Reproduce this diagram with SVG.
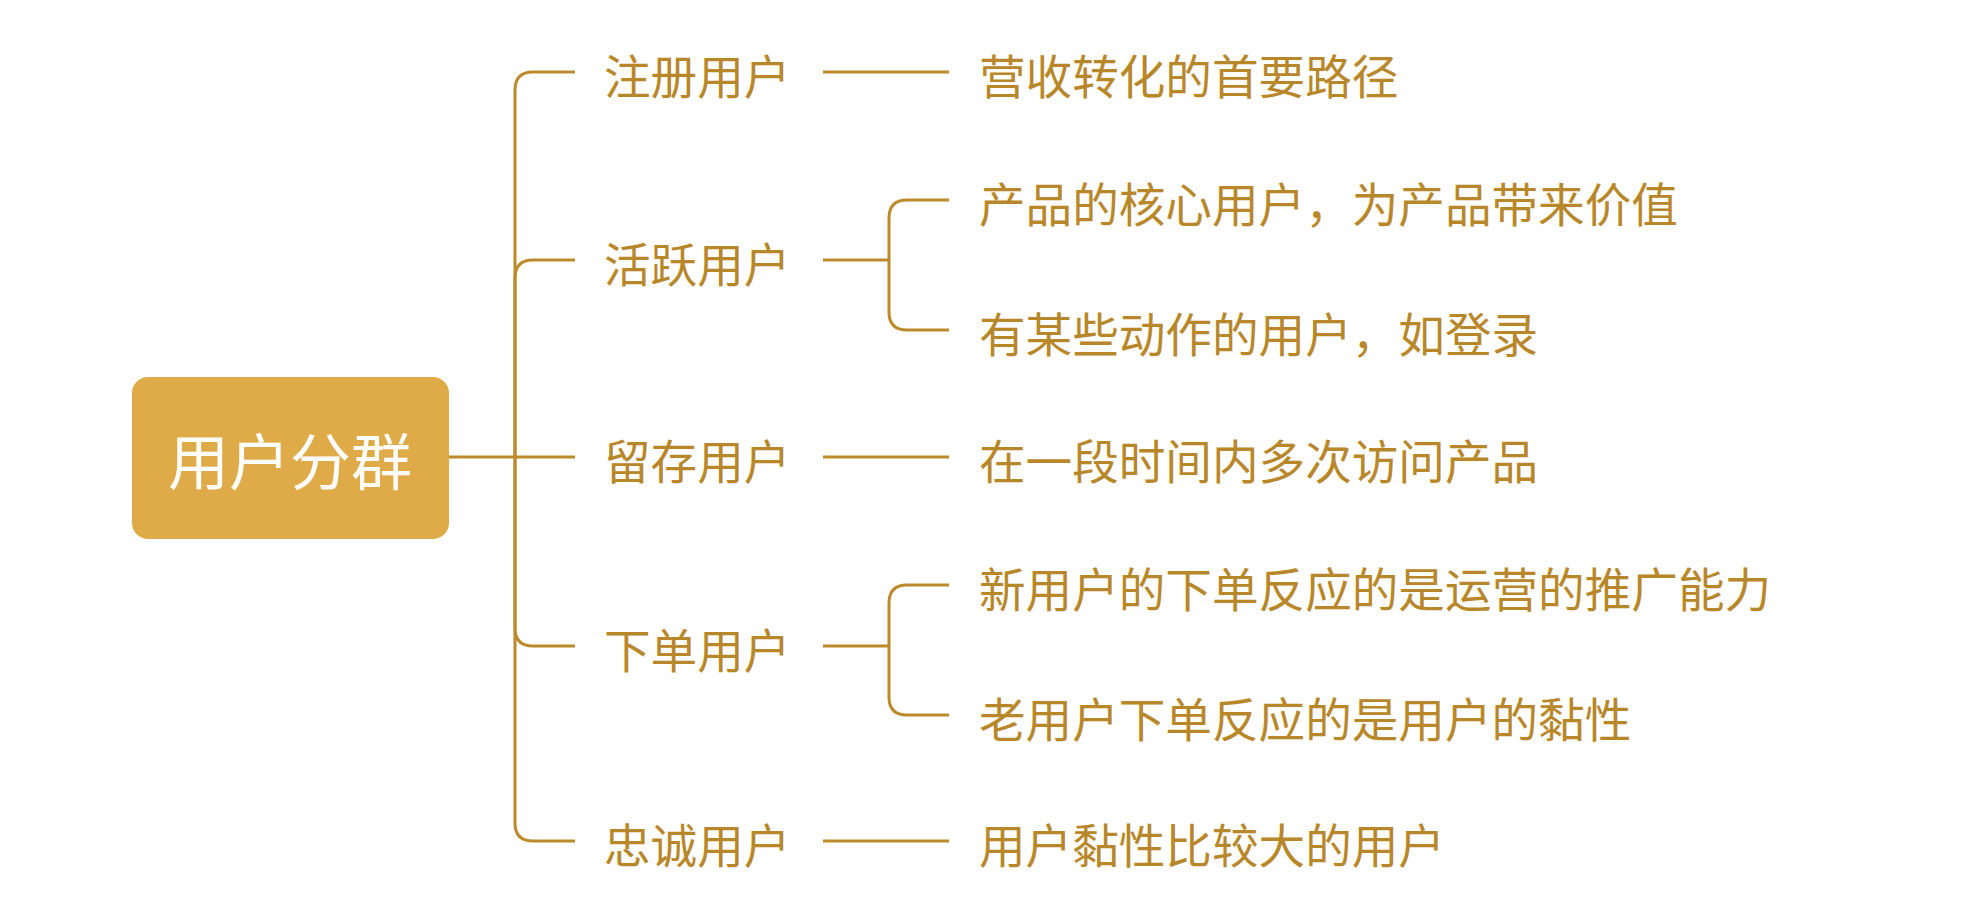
<svg xmlns="http://www.w3.org/2000/svg" width="1988" height="918" viewBox="0 0 1988 918">
<style>
.ln{fill:none;stroke:#BC8A2B;stroke-width:3;stroke-linecap:butt;stroke-linejoin:round}
.t{font-family:"Noto Sans CJK SC","Noto Sans",sans-serif;font-size:46.6px;fill:#B8872A}
.root{font-family:"Noto Sans CJK SC","Noto Sans",sans-serif;font-size:61px;fill:#FFFFFF}
</style>
<rect width="1988" height="918" fill="#FFFFFF"/>
<g id="connectors">
<path class="ln" d="M449,457 L575,457"/>
<path class="ln" d="M515,457 L515,90 Q515,72 533,72 L575,72"/>
<path class="ln" d="M515,457 L515,278 Q515,260 533,260 L575,260"/>
<path class="ln" d="M515,457 L515,628 Q515,646 533,646 L575,646"/>
<path class="ln" d="M515,457 L515,823 Q515,841 533,841 L575,841"/>
<path class="ln" d="M823,72 L949,72"/>
<path class="ln" d="M823,260 L889,260"/>
<path class="ln" d="M889,260 L889,218 Q889,200 907,200 L949,200"/>
<path class="ln" d="M889,260 L889,312 Q889,330 907,330 L949,330"/>
<path class="ln" d="M823,457 L949,457"/>
<path class="ln" d="M823,646 L889,646"/>
<path class="ln" d="M889,646 L889,603 Q889,585 907,585 L949,585"/>
<path class="ln" d="M889,646 L889,697 Q889,715 907,715 L949,715"/>
<path class="ln" d="M823,841 L949,841"/>
</g>
<g id="root">
<rect x="132" y="377" width="317" height="162" rx="16" ry="16" fill="#DEAB48"/>
<text class="root" x="290" y="485" text-anchor="middle">用户分群</text>
</g>
<g id="n-zhuce"><text class="t" x="604" y="94">注册用户</text></g>
<g id="n-huoyue"><text class="t" x="604" y="282">活跃用户</text></g>
<g id="n-liucun"><text class="t" x="604" y="479">留存用户</text></g>
<g id="n-xiadan"><text class="t" x="604" y="668">下单用户</text></g>
<g id="n-zhongcheng"><text class="t" x="604" y="863">忠诚用户</text></g>
<g id="c-1"><text class="t" x="979" y="94">营收转化的首要路径</text></g>
<g id="c-2"><text class="t" x="979" y="222">产品的核心用户，为产品带来价值</text></g>
<g id="c-3"><text class="t" x="979" y="352">有某些动作的用户，如登录</text></g>
<g id="c-4"><text class="t" x="979" y="479">在一段时间内多次访问产品</text></g>
<g id="c-5"><text class="t" x="979" y="607">新用户的下单反应的是运营的推广能力</text></g>
<g id="c-6"><text class="t" x="979" y="737">老用户下单反应的是用户的黏性</text></g>
<g id="c-7"><text class="t" x="979" y="863">用户黏性比较大的用户</text></g>
</svg>
